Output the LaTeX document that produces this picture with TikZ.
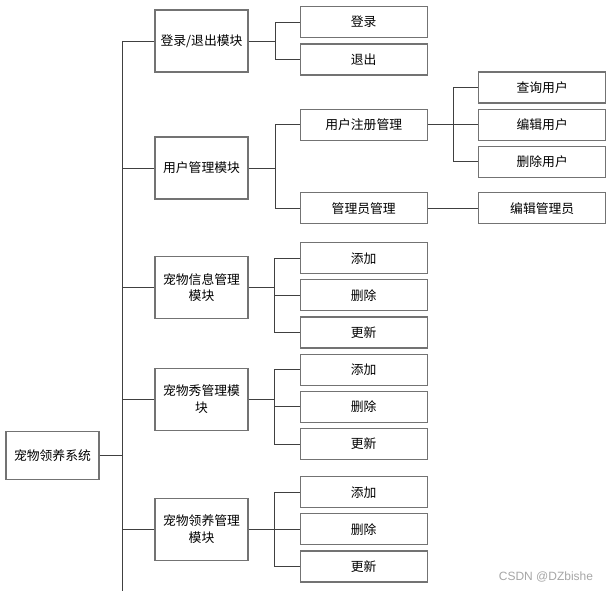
\documentclass[tikz,border=0pt]{standalone}
\usepackage{fontspec}
\setmainfont{Noto Sans CJK SC}
\newfontfamily\markfont{Liberation Sans}

\begin{document}
\begin{tikzpicture}[
  x = 1pt, y = -1pt,
  module/.style={draw=black!55, line width=1.2pt, minimum width=93pt, minimum height=62pt, inner sep=2pt, align=center, font=\fontsize{12.8}{16.7}\selectfont},
  item/.style={draw=black!55, line width=1.2pt, minimum width=127pt, minimum height=31pt, inner sep=0pt, font=\fontsize{12.8}{14}\selectfont},
  link/.style={draw=black!75, line width=0.9pt},
  watermark/.style={color=black!35, font=\markfont\fontsize{12}{14}\selectfont}
]
%general params
\def\mx{201.5} %module column
\def\ix{363.7} %item column
\def\sx{542.2} %sub item column
\def\jx{275}   %junction modules -> items
\useasboundingbox (0,0) rectangle (610,591);

%root and trunk
\node[module, minimum width=93pt, minimum height=48pt] (root) at (52.5,455.5) {宠物领养系统};
\coordinate (trunkTop) at (122,41);
\coordinate (trunkEnd) at (122,591);
\draw[link] (trunkTop) -- (trunkEnd);
\draw[link] (root.east) -- (root.east -| trunkTop);

%modules
\node[module] (login)  at (\mx,41)    {登录/退出模块};
\node[module] (user)   at (\mx,168)   {用户管理模块};
\node[module] (info)   at (\mx,287.7) {宠物信息管理\\模块};
\node[module] (show)   at (\mx,399.3) {宠物秀管理模\\块};
\node[module] (adopt)  at (\mx,529.3) {宠物领养管理\\模块};
\foreach \m in {login, user, info, show, adopt}
  \draw[link] (\m.west) -- (\m.west -| trunkTop);

%login module
\node[item] (signin)  at (\ix,22)   {登录};
\node[item] (signout) at (\ix,59.5) {退出};
\coordinate (jlogin) at (\jx,41);
\draw[link] (login.east) -- (jlogin);
\draw[link] (jlogin) |- (signin.west);
\draw[link] (jlogin) |- (signout.west);

%user module
\node[item] (reg)   at (\ix,124.7) {用户注册管理};
\node[item] (admin) at (\ix,208.3) {管理员管理};
\coordinate (juser) at (\jx,168);
\draw[link] (user.east) -- (juser);
\draw[link] (juser) |- (reg.west);
\draw[link] (juser) |- (admin.west);

\node[item] (query)   at (\sx,87.5)  {查询用户};
\node[item] (edit)    at (\sx,124.7) {编辑用户};
\node[item] (remove)  at (\sx,161.8) {删除用户};
\node[item] (editadm) at (\sx,208.3) {编辑管理员};
\coordinate (jreg) at (453,124.7);
\draw[link] (reg.east) -- (edit.west);
\draw[link] (jreg) |- (query.west);
\draw[link] (jreg) |- (remove.west);
\draw[link] (admin.east) -- (editadm.west);

%pet modules: add / delete / update
\foreach \m/\y in {info/258.2, show/369.8, adopt/492.2}{
  \node[item] (add\m) at (\ix,\y)      {添加};
  \node[item] (del\m) at (\ix,\y+37.1) {删除};
  \node[item] (upd\m) at (\ix,\y+74.3) {更新};
  \coordinate (j\m) at (274,\y+37.1);
  \draw[link] (\m.east) -- (\m.east -| j\m);
  \draw[link] (j\m) |- (add\m.west);
  \draw[link] (j\m) -- (del\m.west);
  \draw[link] (j\m) |- (upd\m.west);
}

\node[watermark] (mark) at (546,577) {CSDN @DZbishe};

\end{tikzpicture}
\end{document}
